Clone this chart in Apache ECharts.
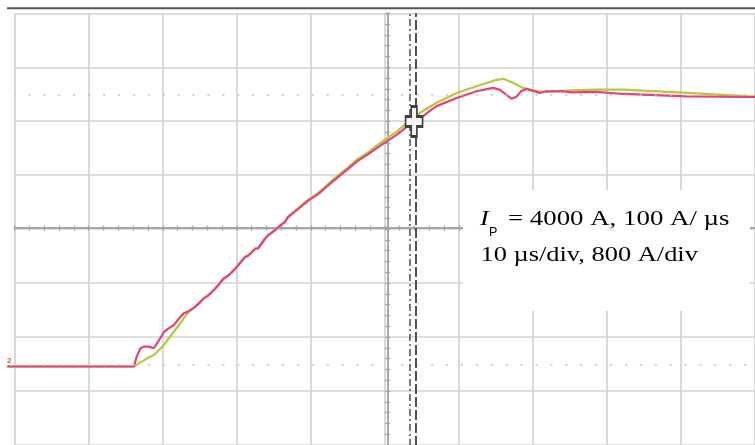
<!DOCTYPE html>
<html>
<head>
<meta charset="utf-8">
<script src="https://cdn.jsdelivr.net/npm/echarts@6/dist/echarts.min.js"></script>
<style>
html,body{margin:0;padding:0;background:#fff;}
#chart{width:755px;height:445px;}
</style>
</head>
<body>
<div id="chart"></div>
<script>
// time in µs (10 µs/div), current in A (800 A/div)
var pinkTime = [-1.0,16.1,16.5,17.0,17.5,18.1,18.8,19.5,20.2,20.8,21.5,22.2,22.8,23.5,24.2,24.9,25.5,26.2,26.9,27.5,28.2,28.9,29.8,30.2,31.1,31.6,32.5,32.9,33.8,34.2,35.1,35.6,36.5,36.9,38.3,39.6,41.0,42.3,43.6,45.0,46.3,47.7,49.0,50.3,51.7,53.0,54.4,55.7,57.0,59.7,62.4,64.6,65.5,66.4,67.1,67.8,68.4,69.1,70.0,70.9,71.8,74.0,75.2,78.5,82.3,90.8,99.3,100.5];
var pinkCurrent = [0,0,150,270,295,295,270,390,515,565,615,710,785,820,870,935,1005,1055,1130,1205,1300,1350,1450,1500,1620,1645,1745,1750,1890,1940,2015,2065,2140,2210,2335,2455,2555,2680,2800,2925,3045,3145,3245,3340,3440,3555,3635,3760,3860,3980,4080,4130,4105,4030,3970,4000,4080,4115,4090,4055,4080,4080,4065,4070,4040,4005,3995,3995];
var greenTime = [-1.0,16.1,16.8,17.5,18.1,18.8,19.5,20.2,20.8,21.5,22.2,22.8,23.5,24.2,24.9,25.5,26.2,26.9,27.5,28.2,28.9,29.8,30.2,31.1,31.6,32.5,32.9,33.8,34.2,35.1,35.6,36.5,36.9,38.3,39.6,41.0,42.3,43.6,45.0,46.3,47.7,49.0,50.3,51.7,53.0,54.4,55.7,57.0,59.7,62.4,65.1,66.0,67.3,68.7,70.0,71.4,75.2,78.5,82.3,90.8,99.3,100.5];
var greenCurrent = [0,0,50,95,135,170,245,320,415,515,615,710,810,870,940,1010,1065,1135,1210,1300,1355,1455,1505,1625,1655,1750,1760,1895,1945,2020,2070,2150,2220,2350,2470,2575,2700,2825,2950,3075,3175,3280,3385,3490,3615,3735,3825,3910,4055,4155,4250,4265,4205,4130,4090,4070,4095,4105,4105,4055,4005,4005];
var cursorTimes = [53.42, 54.13];       // vertical cursors (µs)
var cursorLevels = [25, 4030];          // horizontal cursors (A)
var markerPoint = [53.95, 3633];        // cursor handle (µs, A)
var annotationLine1 = ['I', 'P', '= 4000 A, 100 A/ µs'];
var annotationLine2 = '10 µs/div, 800 A/div';
var groundLabel = '2';

var OFFSET = 1164; // ground level above bottom of screen, in A
function pairs(t, a) { return t.map(function (v, i) { return [v, a[i] + OFFSET]; }); }

var GL = 14.7, GT = 13.3, GW = 745.6, GH = 433.9;
var DIV = GW / 10;
var chart = echarts.init(document.getElementById('chart'));
var gridColor = '#d3d3d3';
var hidden = {axisLine: {show: false}, axisTick: {show: false}, axisLabel: {show: false}, splitLine: {show: false}};
var centerAxis = function (pos, off, inside) {
  return {
    type: 'value', gridIndex: 1, position: pos, offset: off,
    min: 0, max: pos === 'bottom' ? 100 : 6400, interval: pos === 'bottom' ? 2 : 160,
    axisLine: {show: true, onZero: false, lineStyle: {color: '#a3a3a3', width: 1.5}},
    axisTick: {show: true, inside: inside, length: 2.5, lineStyle: {color: '#a3a3a3', width: 1.3}},
    axisLabel: {show: false}, splitLine: {show: false}
  };
};
var option = {
  animation: false,
  backgroundColor: '#ffffff',
  grid: [
    // data grid: one division-tenth wider on the left so the trace starts before the frame
    {left: GL - DIV / 10, top: GT, width: GW + DIV / 10, height: GH, containLabel: false},
    // screen graticule
    {left: GL, top: GT, width: GW, height: GH, containLabel: false}
  ],
  xAxis: [
    Object.assign({type: 'value', gridIndex: 0, min: -1, max: 100}, hidden),
    {type: 'value', gridIndex: 1, min: 0, max: 100, interval: 10,
     axisLine: {show: false}, axisTick: {show: false}, axisLabel: {show: false},
     splitLine: {show: true, lineStyle: {color: gridColor, width: 1.7}}},
    centerAxis('bottom', -GH / 2, true),
    centerAxis('bottom', -GH / 2, false)
  ],
  yAxis: [
    Object.assign({type: 'value', gridIndex: 0, min: 0, max: 6400}, hidden),
    {type: 'value', gridIndex: 1, min: 0, max: 6400, interval: 800,
     axisLine: {show: false}, axisTick: {show: false}, axisLabel: {show: false},
     splitLine: {show: true, lineStyle: {color: gridColor, width: 1.7}}},
    centerAxis('left', -GW / 2, true),
    centerAxis('left', -GW / 2, false)
  ],
  series: [
    {
      type: 'line', name: 'cursors', xAxisIndex: 0, yAxisIndex: 0, data: [], silent: true,
      markLine: {
        silent: true, symbol: ['none', 'none'], label: {show: false}, animation: false,
        data: [
          [{coord: [0, cursorLevels[0] + OFFSET]}, {coord: [100, cursorLevels[0] + OFFSET]}],
          [{coord: [0, cursorLevels[1] + OFFSET]}, {coord: [100, cursorLevels[1] + OFFSET]}],
          {xAxis: cursorTimes[0], lineStyle: {color: '#5a5a5a', width: 1.6, type: [7, 3, 2, 3]}},
          {xAxis: cursorTimes[1], lineStyle: {color: '#505050', width: 2, type: [10, 3]}}
        ],
        lineStyle: {color: '#c2c2c2', width: 1.7, type: [2, 12.91], dashOffset: 1}
      }
    },
    {
      type: 'line', name: 'green', xAxisIndex: 0, yAxisIndex: 0, data: pairs(greenTime, greenCurrent),
      showSymbol: false, z: 3,
      lineStyle: {color: '#b7c83e', width: 2.2}
    },
    {
      type: 'line', name: 'pink', xAxisIndex: 0, yAxisIndex: 0, data: pairs(pinkTime, pinkCurrent),
      showSymbol: false, z: 4,
      lineStyle: {color: '#e5407f', width: 2.2}
    },
    {
      type: 'scatter', name: 'handle', xAxisIndex: 0, yAxisIndex: 0,
      data: [[markerPoint[0], markerPoint[1] + OFFSET]], z: 6, silent: true,
      symbol: 'path://M6,0 H12 V10 H18 V20 H12 V30 H6 V20 H0 V10 H6 Z',
      symbolSize: [17, 30],
      itemStyle: {color: '#f4f4f4', borderColor: '#404040', borderWidth: 2.2, opacity: 1}
    }
  ],
  graphic: [
    {type: 'line', z: 50, shape: {x1: 7, y1: 8.3, x2: 755, y2: 8.3}, style: {stroke: '#555555', lineWidth: 2}},
    {type: 'rect', z: 100, shape: {x: 463, y: 190, width: 287, height: 121}, style: {fill: '#ffffff'}},
    {type: 'text', z: 101, x: 480, y: 219, scaleX: 1.2,
     style: {text: annotationLine1[0], font: 'italic 22px "Liberation Serif"', fill: '#000', verticalAlign: 'middle', align: 'left'}},
    {type: 'text', z: 101, x: 489, y: 233,
     style: {text: annotationLine1[1], font: '12.5px "Liberation Sans"', fill: '#000', verticalAlign: 'middle', align: 'left'}},
    {type: 'text', z: 101, x: 508, y: 219, scaleX: 1.22,
     style: {text: annotationLine1[2], font: '22px "Liberation Serif"', fill: '#000', verticalAlign: 'middle', align: 'left'}},
    {type: 'text', z: 101, x: 480.5, y: 255, scaleX: 1.2,
     style: {text: annotationLine2, font: '22px "Liberation Serif"', fill: '#000', verticalAlign: 'middle', align: 'left'}},
    {type: 'text', z: 60, x: 7, y: 357,
     style: {text: groundLabel, font: 'bold 8px "Liberation Sans"', fill: '#c8603c', verticalAlign: 'top', align: 'left'}}
  ]
};
chart.setOption(option);
</script>
</body>
</html>
